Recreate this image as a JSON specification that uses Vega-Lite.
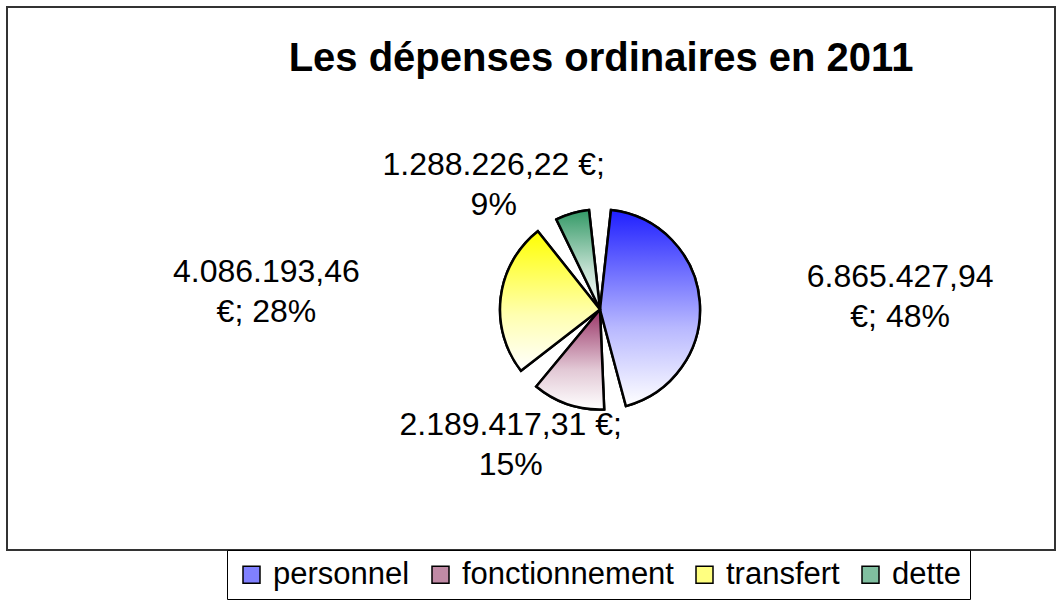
{
  "$schema": "https://vega.github.io/schema/vega-lite/v6.json",
  "width": 1048,
  "height": 543,
  "autosize": "none",
  "padding": {"left": 7, "top": 7, "right": 7, "bottom": 51},
  "background": "white",
  "view": {"stroke": "#333333", "strokeWidth": 2, "fill": "white"},
  "title": {
    "text": "Les dépenses ordinaires en 2011",
    "font": "Liberation Sans",
    "fontSize": 40,
    "fontWeight": "bold",
    "color": "black",
    "anchor": "middle",
    "frame": "group",
    "baseline": "alphabetic",
    "dx": 70,
    "offset": -137
  },
  "config": {
    "view": {"stroke": "#333333", "strokeWidth": 2},
    "font": "Liberation Sans"
  },
  "data": {
    "values": [
      {"cat": "personnel", "idx": 1, "montant": 6865427.94, "label": "6.865.427,94\n€; 48%"},
      {"cat": "fonctionnement", "idx": 2, "montant": 2189417.31, "label": "2.189.417,31 €;\n15%"},
      {"cat": "transfert", "idx": 3, "montant": 4086193.46, "label": "4.086.193,46\n€; 28%"},
      {"cat": "dette", "idx": 4, "montant": 1288226.22, "label": "1.288.226,22 €;\n9%"}
    ]
  },
  "encoding": {
    "theta": {"field": "montant", "type": "quantitative", "stack": true},
    "order": {"field": "idx", "type": "quantitative", "sort": "ascending"}
  },
  "layer": [
    {
      "mark": {"type": "arc", "radius": 100, "xOffset": 69, "yOffset": 31, "padAngle": 0.22, "stroke": "black", "strokeWidth": 2.5},
      "encoding": {
        "color": {
          "field": "cat",
          "type": "nominal",
          "scale": {
            "domain": ["personnel", "fonctionnement", "transfert", "dette"],
            "range": ["#8080ff", "#c08aa5", "#ffff80", "#80bfa0"]
          },
          "legend": {
            "orient": "none",
            "legendX": 220,
            "legendY": 543,
            "direction": "horizontal",
            "columns": 4,
            "title": null,
            "symbolType": "square",
            "symbolSize": 289,
            "symbolStrokeColor": "black",
            "symbolStrokeWidth": 1.5,
            "symbolOpacity": 1,
            "labelFont": "Liberation Sans",
            "labelFontSize": 31,
            "labelColor": "black",
            "labelOffset": 6,
            "labelLimit": 400,
            "columnPadding": 15,
            "padding": 9,
            "strokeColor": "black",
            "fillColor": "white"
          }
        }
      }
    },
    {
      "mark": {"type": "arc", "radius": 100, "xOffset": 69, "yOffset": 31, "padAngle": 0.22, "stroke": "black", "strokeWidth": 2.5,
        "fill": {"gradient": "linear", "x1": 0, "y1": 0, "x2": 0, "y2": 1, "stops": [{"offset": 0, "color": "#1f1fff"}, {"offset": 0.6, "color": "#b8b8ff"}, {"offset": 1, "color": "#ffffff"}]}},
      "encoding": {
        "detail": {"field": "cat", "type": "nominal"},
        "opacity": {"condition": {"test": "datum.cat === 'personnel'", "value": 1}, "value": 0}
      }
    },
    {
      "mark": {"type": "arc", "radius": 100, "xOffset": 69, "yOffset": 31, "padAngle": 0.22, "stroke": "black", "strokeWidth": 2.5,
        "fill": {"gradient": "linear", "x1": 0, "y1": 0, "x2": 0, "y2": 1, "stops": [{"offset": 0, "color": "#993366"}, {"offset": 0.6, "color": "#e2c8d5"}, {"offset": 1, "color": "#ffffff"}]}},
      "encoding": {
        "detail": {"field": "cat", "type": "nominal"},
        "opacity": {"condition": {"test": "datum.cat === 'fonctionnement'", "value": 1}, "value": 0}
      }
    },
    {
      "mark": {"type": "arc", "radius": 100, "xOffset": 69, "yOffset": 31, "padAngle": 0.22, "stroke": "black", "strokeWidth": 2.5,
        "fill": {"gradient": "linear", "x1": 0, "y1": 0, "x2": 0, "y2": 1, "stops": [{"offset": 0, "color": "#ffff00"}, {"offset": 0.6, "color": "#ffffb0"}, {"offset": 1, "color": "#ffffff"}]}},
      "encoding": {
        "detail": {"field": "cat", "type": "nominal"},
        "opacity": {"condition": {"test": "datum.cat === 'transfert'", "value": 1}, "value": 0}
      }
    },
    {
      "mark": {"type": "arc", "radius": 100, "xOffset": 69, "yOffset": 31, "padAngle": 0.22, "stroke": "black", "strokeWidth": 2.5,
        "fill": {"gradient": "linear", "x1": 0, "y1": 0, "x2": 0, "y2": 1, "stops": [{"offset": 0, "color": "#339966"}, {"offset": 0.6, "color": "#c2e0d1"}, {"offset": 1, "color": "#ffffff"}]}},
      "encoding": {
        "detail": {"field": "cat", "type": "nominal"},
        "opacity": {"condition": {"test": "datum.cat === 'dette'", "value": 1}, "value": 0}
      }
    },
    {
      "mark": {"type": "text", "radius": 301, "xOffset": 69, "yOffset": 31, "fontSize": 32, "font": "Liberation Sans", "color": "black", "lineBreak": "\n", "lineHeight": 40, "align": "center", "baseline": "middle", "dy": -10},
      "encoding": {
        "detail": {"field": "cat", "type": "nominal"},
        "text": {"condition": {"test": "datum.cat === 'personnel'", "field": "label"}, "value": ""}
      }
    },
    {
      "mark": {"type": "text", "radius": 336, "xOffset": 69, "yOffset": 31, "fontSize": 32, "font": "Liberation Sans", "color": "black", "lineBreak": "\n", "lineHeight": 40, "align": "center", "baseline": "middle", "dy": 3},
      "encoding": {
        "detail": {"field": "cat", "type": "nominal"},
        "text": {"condition": {"test": "datum.cat === 'transfert'", "field": "label"}, "value": ""}
      }
    },
    {
      "mark": {"type": "text", "radius": 131, "xOffset": 69, "yOffset": 31, "fontSize": 32, "font": "Liberation Sans", "color": "black", "lineBreak": "\n", "lineHeight": 40, "align": "center", "baseline": "middle", "dx": -70, "dy": -19},
      "encoding": {
        "detail": {"field": "cat", "type": "nominal"},
        "text": {"condition": {"test": "datum.cat === 'dette'", "field": "label"}, "value": ""}
      }
    },
    {
      "mark": {"type": "text", "radius": 142, "xOffset": 69, "yOffset": 31, "fontSize": 32, "font": "Liberation Sans", "color": "black", "lineBreak": "\n", "lineHeight": 40, "align": "center", "baseline": "middle", "dx": -44, "dy": -19},
      "encoding": {
        "detail": {"field": "cat", "type": "nominal"},
        "text": {"condition": {"test": "datum.cat === 'fonctionnement'", "field": "label"}, "value": ""}
      }
    }
  ]
}
